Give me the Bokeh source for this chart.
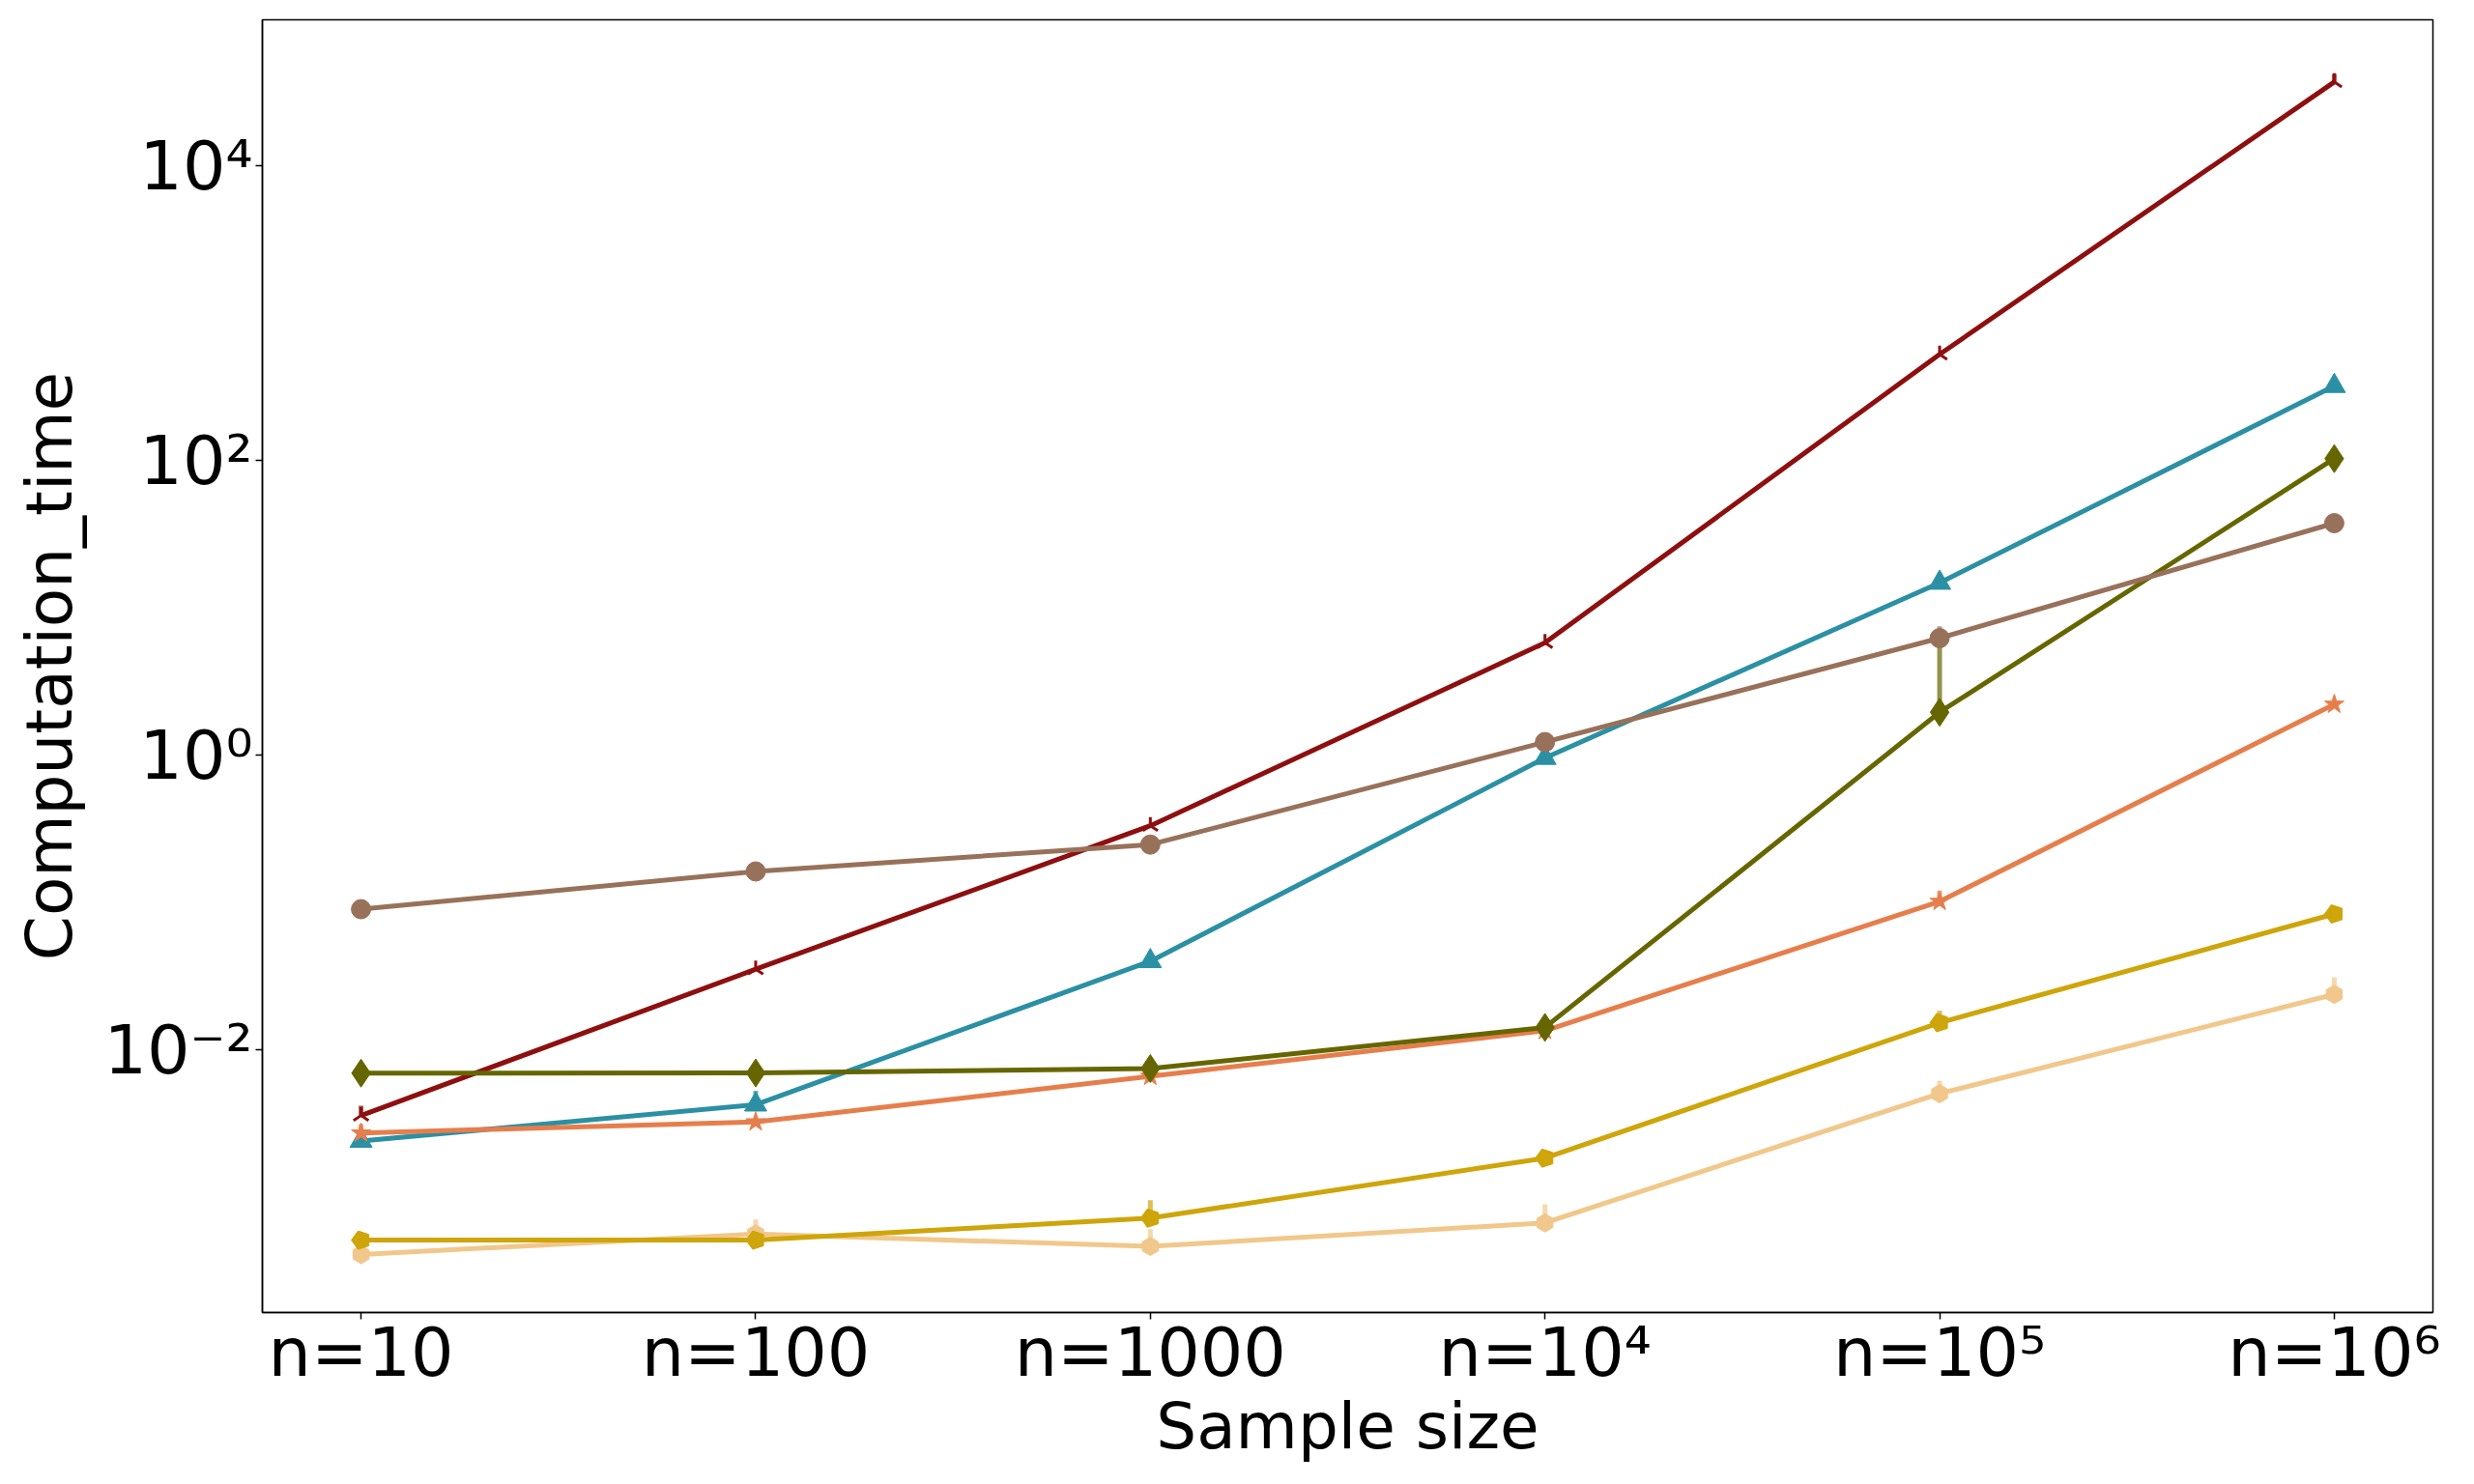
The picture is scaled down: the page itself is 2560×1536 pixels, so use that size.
import numpy as np
from bokeh.plotting import figure
from bokeh.models import Range1d, FixedTicker
from bokeh.embed import file_html
from bokeh.resources import INLINE

categories = ["n=10", "n=100", "n=1000", "n=10\u2074", "n=10\u2075", "n=10\u2076"]
xpos = [0, 1, 2, 3, 4, 5]

red_vals = [3.6e-3, 0.0354, 0.333, 5.8, 525, 3.7e4]
red_upper = [4.2e-3, 0.0354, 0.333, 5.8, 525, 4.2e4]

teal_vals = [2.42e-3, 4.27e-3, 0.0401, 0.96, 14.8, 320]
teal_upper = [2.42e-3, 5.3e-3, 0.0401, 0.96, 17.3, 320]

olive_vals = [6.98e-3, 7.0e-3, 7.5e-3, 0.01426, 1.96, 103]
olive_upper = [6.98e-3, 7.0e-3, 7.5e-3, 0.01426, 6.1, 103]

brown_vals = [0.0904, 0.163, 0.248, 1.23, 6.24, 37.6]
brown_upper = [0.0904, 0.163, 0.248, 1.23, 7.5, 37.6]

orange_vals = [2.74e-3, 3.26e-3, 6.64e-3, 0.01356, 0.102, 2.22]
orange_upper = [3.15e-3, 3.26e-3, 6.64e-3, 0.01356, 0.121, 2.22]

gold_vals = [5.14e-4, 5.14e-4, 7.25e-4, 1.85e-3, 0.01535, 0.0839]
gold_upper = [5.14e-4, 5.14e-4, 9.6e-4, 1.85e-3, 0.0185, 0.0839]

peach_vals = [4.11e-4, 5.66e-4, 4.66e-4, 6.73e-4, 5.07e-3, 0.0239]
peach_upper = [4.11e-4, 7.1e-4, 6.1e-4, 9.0e-4, 6.2e-3, 0.0312]

ytick_vals = [0.01, 1, 100, 10000]
ytick_labels = ["10\u207b\u00b2", "10\u2070", "10\u00b2", "10\u2074"]

FONT = "DejaVu Sans"

p = figure(width=2544, height=1520, y_axis_type="log",
           x_range=Range1d(-0.25, 5.25), y_range=Range1d(10 ** -3.78, 10 ** 4.99),
           output_backend="svg", toolbar_location=None,
           min_border_left=271, min_border_right=27, min_border_top=20, min_border_bottom=162)
p.background_fill_color = "white"
p.border_fill_color = "white"
p.outline_line_color = "black"
p.outline_line_width = 1.5
p.grid.visible = False

p.xaxis.ticker = FixedTicker(ticks=xpos)
p.xaxis.major_label_overrides = {i: c for i, c in zip(xpos, categories)}
p.yaxis.ticker = FixedTicker(ticks=ytick_vals)
p.yaxis.major_label_overrides = {v: l for v, l in zip(ytick_vals, ytick_labels)}

p.xaxis.axis_label = "Sample size"
p.yaxis.axis_label = "Computation_time"
for ax in (p.xaxis, p.yaxis):
    ax.axis_line_width = 1.5
    ax.axis_line_color = "black"
    ax.major_tick_line_width = 1.5
    ax.major_tick_out = 7
    ax.major_tick_in = 0
    ax.minor_tick_out = 0
    ax.minor_tick_in = 0
    ax.major_label_text_font = FONT
    ax.major_label_text_font_size = "70px"
    ax.major_label_text_color = "black"
    ax.axis_label_text_font = FONT
    ax.axis_label_text_font_size = "66px"
    ax.axis_label_text_font_style = "normal"
    ax.axis_label_text_color = "black"
p.xaxis.major_label_standoff = -7
p.yaxis.major_label_standoff = 3
p.xaxis.axis_label_standoff = -6
p.yaxis.axis_label_standoff = 14

series = [
    ("red", red_vals, red_upper, "#8e0f0f"),
    ("teal", teal_vals, teal_upper, "#2b90a4"),
    ("peach", peach_vals, peach_upper, "#f1c78b"),
    ("gold", gold_vals, gold_upper, "#cea50a"),
    ("orange", orange_vals, orange_upper, "#e67e4c"),
    ("olive", olive_vals, olive_upper, "#666600"),
    ("brown", brown_vals, brown_upper, "#98715a"),
]

for name, vals, upper, col in series:
    p.segment(x0=xpos, y0=vals, x1=xpos, y1=upper, line_color=col, line_alpha=0.7, line_width=5)
    p.line(xpos, vals, line_color=col, line_width=5)
    if name == "red":
        p.scatter(xpos, vals, marker="y", size=18, angle=np.pi, line_color=col, line_width=3)
    elif name == "teal":
        p.scatter(xpos, vals, marker="triangle", size=23, fill_color=col, line_color=col)
    elif name == "peach":
        p.scatter(xpos, vals, marker="hex", size=19, angle=np.pi / 6, fill_color=col, line_color=col)
    elif name == "gold":
        try:
            p.ngon(x=xpos, y=vals, radius=10, radius_units="screen", n=5, angle=np.pi / 2,
                   fill_color=col, line_color=col)
        except Exception:
            p.scatter(xpos, vals, marker="hex", size=19, fill_color=col, line_color=col)
    elif name == "orange":
        p.scatter(xpos, vals, marker="star", size=21, fill_color=col, line_color=col)
    elif name == "olive":
        p.scatter(xpos, vals, marker="diamond", size=29, fill_color=col, line_color=col)
    elif name == "brown":
        p.scatter(xpos, vals, marker="circle", size=20, fill_color=col, line_color=col)

open("out.html", "w").write(file_html(p, INLINE))
